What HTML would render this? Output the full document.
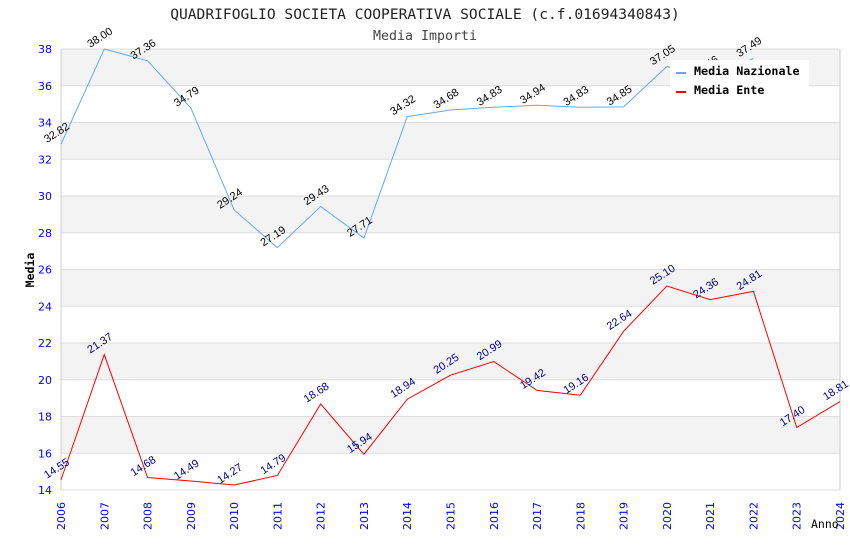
<!DOCTYPE html>
<html><head><meta charset="utf-8"><style>
body{margin:0;background:#fff;}
svg{display:block;font-family:"DejaVu Sans","Liberation Sans",sans-serif;}
.mono{font-family:"DejaVu Sans Mono","Liberation Mono",monospace;}
.lbl{font-family:"Liberation Sans",sans-serif;}
</style></head><body>
<svg id="chart" width="850" height="550" xmlns="http://www.w3.org/2000/svg">
<text class="mono" x="425" y="19" text-anchor="middle" font-size="14.6" fill="#222">QUADRIFOGLIO SOCIETA COOPERATIVA SOCIALE (c.f.01694340843)</text>
<text class="mono" x="425" y="40" text-anchor="middle" font-size="13.3" fill="#444">Media Importi</text>
<g id="bands"></g><g id="grid"></g><g id="axes"></g><g id="series"></g><g id="labels"></g>
<text class="mono" transform="translate(34,270) rotate(-90)" text-anchor="middle" font-size="11.5" font-weight="bold" fill="#000">Media</text>
<text class="mono" x="811" y="528" font-size="11.5" fill="#000">Anno</text>
<g>
<rect x="670" y="60" width="139" height="40" fill="#fff"/>
<line x1="676" y1="73" x2="686" y2="73" stroke="#66aaee" stroke-width="2"/>
<text class="mono" x="694" y="75" font-size="11.7" font-weight="bold">Media Nazionale</text>
<line x1="676" y1="92" x2="686" y2="92" stroke="#ff0000" stroke-width="2"/>
<text class="mono" x="694" y="94" font-size="11.7" font-weight="bold">Media Ente</text>
</g>
</svg>
<script>
const years=[2006,2007,2008,2009,2010,2011,2012,2013,2014,2015,2016,2017,2018,2019,2020,2021,2022,2023,2024];
const nazionale=[32.82,38.00,37.36,34.79,29.24,27.19,29.43,27.71,34.32,34.68,34.83,34.94,34.83,34.85,37.05,36.46,37.49,null,null];
const ente=[14.55,21.37,14.68,14.49,14.27,14.79,18.68,15.94,18.94,20.25,20.99,19.42,19.16,22.64,25.10,24.36,24.81,17.40,18.81];
const yTicks=[14,16,18,20,22,24,26,28,30,32,34,36,38];
const L=61,R=840,T=49,B=490,ymin=14,ymax=38;
const xs=i=>L+(R-L)*i/(years.length-1);
const ys=v=>B-(B-T)*(v-ymin)/(ymax-ymin);
const NS="http://www.w3.org/2000/svg";
function mk(tag,attrs,parent,text){const e=document.createElementNS(NS,tag);for(const k in attrs)e.setAttribute(k,attrs[k]);if(text!=null)e.textContent=text;document.getElementById(parent).appendChild(e);return e;}
for(let i=0;i<yTicks.length-1;i++){
 if((yTicks.length-2-i)%2===0){const b=mk('rect',{x:L,y:ys(yTicks[i+1]),width:R-L,height:ys(yTicks[i])-ys(yTicks[i+1]),fill:'#f3f3f3'},'bands');
 
 }
}
yTicks.forEach(t=>{
 const l=mk('line',{x1:L,x2:R,y1:ys(t),y2:ys(t),stroke:'#dddddd'},'grid');
 
 
 const tx=mk('text',{x:L-9,y:ys(t)+4,'text-anchor':'end','font-size':11,fill:'#0000ff'},'axes',t);
 
 
});
mk('line',{x1:L,x2:L,y1:T,y2:B,stroke:'#ccc'},'axes');
mk('line',{x1:R,x2:R,y1:T,y2:B,stroke:'#ccc'},'axes');
years.forEach((y,i)=>{
 const tx=mk('text',{transform:`translate(${xs(i)+4},${B+40}) rotate(-90)`,'font-size':11,fill:'#0000ff'},'axes',y);
 
 
});
function drawSeries(vals,color,lblColor,name){
 let d='';vals.forEach((v,i)=>{if(v==null)return;d+=(d?'L':'M')+xs(i)+' '+ys(v);});
 const p=mk('path',{d:d,fill:'none',stroke:color,'stroke-width':1},'series');
 
 
 vals.forEach((v,i)=>{if(v==null)return;
  const t=mk('text',{class:'lbl',transform:`translate(${xs(i)-14},${ys(v)-1}) rotate(-33)`,'font-size':11,fill:lblColor},'labels',v.toFixed(2));
  
  
 });
}
drawSeries(nazionale,'#66aaee','#000','nazionale');
drawSeries(ente,'#ff0000','#000080','ente');
</script>
</body></html>
